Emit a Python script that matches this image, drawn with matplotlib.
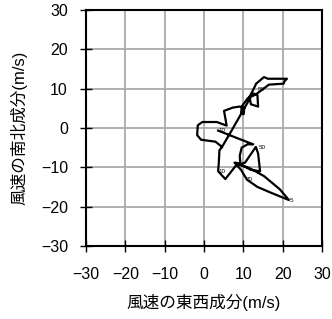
import matplotlib.pyplot as plt
import numpy as np

plt.rcParams['font.family'] = ['Liberation Sans', 'Noto Sans CJK JP', 'DejaVu Sans']

# hodograph (u, v) in m/s
u = [3.58, 7.75, 12.5, 11.08, 9.58, 9.08, 9.25, 10.42, 13.17, 13.75, 14.25, 11.92,
     8.58, 7.75, 9.42, 10.92, 13.58, 17.08, 21.58, 19.25, 15.25, 11.5, 8.42, 5.42,
     3.58, 3.75, 3.92, 4.58, 2.92, -0.75, -1.75, -1.58, -0.42, 3.25, 5.75, 5.42,
     5.08, 7.33, 9.0, 10.25, 10.08, 9.42, 9.58, 11.08, 12.58, 13.58, 13.75, 11.92,
     11.58, 12.58, 13.25, 15.25, 16.25, 21.08, 20.42, 20.25, 16.5, 13.17, 11.92,
     10.25, 6.92, 4.58]
v = [-0.67, -2.33, -4.17, -4.17, -5.0, -7.08, -9.17, -8.83, -4.83, -6.5, -11.0, -10.67,
     -8.92, -8.83, -10.67, -13.17, -15.0, -16.5, -18.33, -15.58, -12.25, -10.17, -9.17, -13.0,
     -11.0, -9.0, -5.67, -4.83, -3.5, -3.0, -1.83, 0.67, 1.5, 1.5, 0.58, 2.5,
     4.33, 5.17, 5.42, 5.17, 3.5, 3.67, 5.42, 7.5, 8.75, 8.33, 5.42, 6.0,
     7.92, 9.83, 11.25, 12.92, 12.5, 12.5, 11.83, 11.25, 11.0, 8.5, 7.92,
     5.0, -0.83, -4.83]

lab_u = [3.6, 14.0, 3.6, 10.6, 21.8, 13.7]
lab_v = [-0.7, -4.9, -11.0, -13.0, -18.4, 9.8]
lab_t = ['10', '50', '10', '70', '5', '50']

fig = plt.figure(figsize=(3.32, 3.19), dpi=100)
ax = fig.add_axes([0.259, 0.229, 0.711, 0.740])

ax.plot(u, v, color='black', lw=1.6, zorder=3)
for x, y, t in zip(lab_u, lab_v, lab_t):
    ax.text(x, y, t, fontsize=4.5, ha='left', va='center', zorder=4)

ax.set_xlim(-30, 30)
ax.set_ylim(-30, 30)
ticks = np.arange(-30, 31, 10)
ax.set_xticks(ticks)
ax.set_yticks(ticks)
ax.set_xticklabels(['\u221230', '\u221220', '\u221210', '0', '10', '20', '30'])
ax.set_yticklabels(['\u221230', '\u221220', '\u221210', '0', '10', '20', '30'])
ax.grid(True, color='#aaaaaa', lw=1.3)
ax.set_axisbelow(True)
ax.tick_params(direction='inout', length=8, width=1, labelsize=11.5)
ax.tick_params(axis='x', pad=11)
ax.tick_params(axis='y', pad=9)
for s in ax.spines.values():
    s.set_linewidth(1.5)

ax.set_xlabel('風速の東西成分(m/s)', fontsize=12, labelpad=9)
ax.set_ylabel('風速の南北成分(m/s)', fontsize=12, labelpad=10)

fig.savefig('out.png', dpi=100)
